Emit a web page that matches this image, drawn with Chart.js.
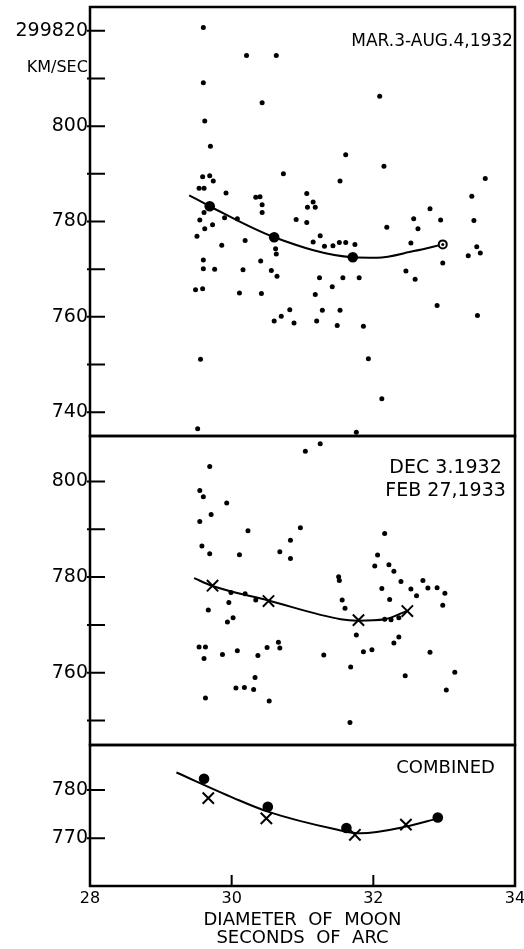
<!DOCTYPE html>
<html>
<head>
<meta charset="utf-8">
<script src="https://cdn.jsdelivr.net/npm/chart.js@4.4.1/dist/chart.umd.min.js"></script>
<style>
  html, body { margin: 0; padding: 0; background: #fff; }
  #page { position: relative; width: 524px; height: 949px; overflow: hidden; }
  #page canvas { position: absolute; left: 0; }
</style>
</head>
<body>
<div id="page">
  <canvas id="topChart" width="530" height="438" style="top:0"></canvas>
  <canvas id="midChart" width="530" height="313" style="top:434px"></canvas>
  <canvas id="botChart" width="530" height="206" style="top:743px"></canvas>
</div>
<script>
const FONT = 'DejaVu Sans';
Chart.defaults.font.family = FONT;
Chart.defaults.color = '#000';

// diameter of moon, seconds of arc
const xTicks = [28, 30, 32, 34];

// MAR.3 - AUG.4 1932
const topTicks = [740, 750, 760, 770, 780, 790, 800, 810, 820];
const topTickLabels = ['740', '', '760', '', '780', '', '800', '', '299820'];
const topX = [29.60, 30.21, 30.63, 29.60, 30.43, 29.62, 29.70, 30.73, 31.53, 29.59,
  29.69, 29.74, 29.54, 29.61, 29.92, 30.34, 30.40, 30.43, 30.43, 31.06,
  31.15, 31.18, 31.07, 29.61, 29.55, 29.90, 30.08, 30.91, 31.06, 32.09,
  31.61, 32.15, 33.58, 33.39, 32.80, 32.57, 32.95, 33.42, 29.62, 29.73,
  29.51, 29.86, 30.19, 30.62, 30.63, 31.15, 31.25, 31.31, 31.43, 31.52,
  31.61, 31.74, 29.60, 29.60, 29.76, 30.16, 30.41, 30.56, 30.64, 31.24,
  31.42, 29.49, 29.59, 30.11, 30.42, 31.18, 30.82, 30.70, 30.60, 30.88,
  31.28, 31.20, 31.49, 31.53, 29.56, 29.52, 32.19, 32.63, 32.53, 33.46,
  33.34, 33.51, 32.98, 31.57, 31.80, 32.46, 32.59, 31.86, 32.90, 33.47,
  31.93, 32.12, 31.76];
const topY = [820.7, 814.8, 814.8, 809.1, 804.9, 801.1, 795.8, 790.0, 788.5, 789.4,
  789.6, 788.5, 787.0, 787.0, 786.0, 785.1, 785.2, 783.5, 781.9, 785.9,
  784.1, 783.0, 783.0, 781.9, 780.3, 780.8, 780.6, 780.4, 779.8, 806.3,
  794.0, 791.6, 789.0, 785.3, 782.7, 780.6, 780.3, 780.2, 778.5, 779.3,
  776.9, 775.0, 776.0, 774.3, 773.2, 775.7, 777.0, 774.8, 774.9, 775.6,
  775.6, 775.2, 771.9, 770.1, 770.0, 769.9, 771.7, 769.7, 768.5, 768.2,
  766.3, 765.7, 765.9, 765.0, 764.9, 764.7, 761.5, 760.1, 759.1, 758.7,
  761.4, 759.1, 758.2, 761.4, 751.1, 736.5, 778.8, 778.5, 775.5, 774.7,
  772.8, 773.4, 771.3, 768.2, 768.2, 769.6, 767.9, 758.0, 762.4, 760.3,
  751.2, 742.8, 735.8];
const topMeanX = [29.69, 30.60, 31.71];
const topMeanY = [783.2, 776.7, 772.5];
const topRingX = [32.98];
const topRingY = [775.2];
const topCurveX = [29.40, 29.69, 30.60, 31.71, 32.05, 32.57, 32.98];
const topCurveY = [785.5, 783.2, 776.7, 772.5, 772.4, 773.8, 775.2];

// DEC 3 1932 - FEB 27 1933
const midTicks = [750, 760, 770, 780, 790, 800];
const midTickLabels = ['', '760', '', '780', '', '800'];
const midX = [31.04, 31.25, 29.69, 29.55, 29.60, 29.93, 29.71, 29.55, 30.23, 30.97,
  30.83, 29.58, 29.69, 30.11, 30.68, 30.83, 31.51, 31.52, 31.56, 29.99,
  30.19, 30.34, 29.67, 29.96, 30.02, 29.94, 29.54, 29.63, 29.61, 29.87,
  30.08, 30.37, 30.50, 30.66, 30.68, 31.30, 30.33, 30.06, 30.18, 30.31,
  29.63, 30.53, 32.16, 32.06, 32.02, 32.22, 32.29, 32.39, 32.70, 32.53,
  32.61, 32.77, 32.90, 33.01, 32.98, 32.12, 32.23, 31.60, 32.16, 32.25,
  32.36, 31.76, 32.36, 32.29, 31.86, 31.98, 32.80, 31.68, 32.45, 33.15,
  33.03, 31.67];
const midY = [806.3, 807.9, 803.1, 798.1, 796.8, 795.5, 793.1, 791.6, 789.7, 790.3,
  787.7, 786.5, 784.9, 784.7, 785.3, 783.9, 780.1, 779.3, 775.2, 776.8,
  776.5, 775.2, 773.1, 774.7, 771.5, 770.6, 765.4, 765.4, 763.0, 763.8,
  764.6, 763.6, 765.3, 766.4, 765.2, 763.7, 759.0, 756.8, 756.9, 756.5,
  754.7, 754.1, 789.1, 784.6, 782.3, 782.6, 781.2, 779.1, 779.3, 777.5,
  776.1, 777.7, 777.8, 776.6, 774.1, 777.6, 775.3, 773.5, 771.2, 771.1,
  771.5, 767.9, 767.5, 766.2, 764.4, 764.8, 764.3, 761.2, 759.4, 760.1,
  756.4, 749.6];
const midMeanX = [29.73, 30.52, 31.79, 32.48];
const midMeanY = [778.2, 775.0, 771.0, 772.9];
const midCurveX = [29.47, 29.72, 30.52, 31.54, 31.78, 32.16, 32.47];
const midCurveY = [779.8, 778.2, 775.1, 771.2, 770.9, 771.2, 772.9];

// combined
const botTicks = [770, 780];
const botTickLabels = ['770', '780'];
const botDotX = [29.61, 30.51, 31.62, 32.91];
const botDotY = [782.3, 776.5, 772.1, 774.3];
const botCrossX = [29.67, 30.49, 31.74, 32.46];
const botCrossY = [778.3, 774.1, 770.7, 772.8];
const botCurveX = [29.22, 30.03, 30.51, 31.45, 31.82, 32.46, 32.91];
const botCurveY = [783.6, 778.3, 775.5, 771.9, 771.0, 772.4, 774.1];

const pts = (xs, ys) => xs.map((x, i) => ({x, y: ys[i]}));

const dots = (data, r, order) => ({
  data, order, clip: false, pointRadius: r, pointHoverRadius: r,
  pointBackgroundColor: '#000', pointBorderWidth: 0
});
const crosses = (data, r) => ({
  data, order: 1, clip: false, pointStyle: 'crossRot', pointRadius: r, pointHoverRadius: r,
  pointBorderColor: '#000', pointBorderWidth: 2
});
const curve = data => ({
  data, order: 3, clip: false, showLine: true, fill: false, pointRadius: 0,
  borderColor: '#000', borderWidth: 2, cubicInterpolationMode: 'monotone'
});

// box round the plot, inward tick marks, lettering inside the panel
const frame = {
  id: 'frame',
  afterDraw(chart, args, opts) {
    const {ctx, chartArea: a, scales: {x, y}} = chart;
    ctx.save();
    ctx.strokeStyle = '#000';
    ctx.lineWidth = 2;
    ctx.beginPath();
    y.ticks.forEach(t => {
      const py = y.getPixelForValue(t.value);
      ctx.moveTo(a.left - 3, py);
      ctx.lineTo(a.left + 15, py);
    });
    if (opts.xMarks) {
      x.ticks.forEach(t => {
        const px = x.getPixelForValue(t.value);
        ctx.moveTo(px, a.bottom);
        ctx.lineTo(px, a.bottom - 11);
      });
    }
    ctx.stroke();
    ctx.lineWidth = 2.5;
    ctx.strokeRect(a.left, a.top, a.width, a.height);
    ctx.fillStyle = '#000';
    ctx.textBaseline = 'middle';
    (opts.notes || []).forEach(n => {
      ctx.font = n.size + 'px "' + FONT + '"';
      ctx.textAlign = n.align || 'center';
      ctx.fillText(n.text, x.getPixelForValue(n.x), y.getPixelForValue(n.y));
    });
    ctx.restore();
  }
};

function yScale(min, max, ticks, labels) {
  return {
    min, max,
    afterBuildTicks: s => { s.ticks = ticks.map(value => ({value})); },
    afterFit: s => { s.width = 90; s.paddingTop = 0; s.paddingBottom = 0; },
    grid: {display: false, drawTicks: false},
    border: {display: false},
    ticks: {padding: 2, font: {size: 19}, callback: (v, i) => labels[i]}
  };
}

function panel(id, datasets, x, y, padding, frameOpts) {
  return new Chart(document.getElementById(id), {
    type: 'scatter',
    data: {datasets},
    options: {
      responsive: false,
      animation: false,
      events: [],
      layout: {padding, autoPadding: false},
      plugins: {legend: {display: false}, tooltip: {enabled: false}, frame: frameOpts},
      scales: {x, y}
    },
    plugins: [frame]
  });
}

const hiddenX = {type: 'linear', min: 28, max: 34, display: false};

panel('topChart', [
  dots(pts(topRingX, topRingY), 1.5, 0),
  {data: pts(topRingX, topRingY), order: 1, clip: false, pointRadius: 4, pointHoverRadius: 4,
   pointBackgroundColor: '#fff', pointBorderColor: '#000', pointBorderWidth: 2},
  dots(pts(topMeanX, topMeanY), 5.3, 2),
  curve(pts(topCurveX, topCurveY)),
  dots(pts(topX, topY), 2.5, 4)
], hiddenX, yScale(735, 825, topTicks, topTickLabels),
  {top: 7, bottom: 2, left: 0, right: 15},
  {notes: [
    {text: 'MAR.3-AUG.4,1932', x: 32.83, y: 817.7, size: 17},
    {text: 'KM/SEC', x: 27.97, y: 812.2, size: 16, align: 'right'}
  ]});

panel('midChart', [
  crosses(pts(midMeanX, midMeanY), 8),
  curve(pts(midCurveX, midCurveY)),
  dots(pts(midX, midY), 2.5, 4)
], hiddenX, yScale(744.9, 809.5, midTicks, midTickLabels),
  {top: 2, bottom: 2, left: 0, right: 15},
  {notes: [
    {text: 'DEC 3.1932', x: 33.02, y: 802.75, size: 19},
    {text: 'FEB 27,1933', x: 33.02, y: 798.0, size: 19}
  ]});

panel('botChart', [
  crosses(pts(botCrossX, botCrossY), 8),
  dots(pts(botDotX, botDotY), 5.3, 2),
  curve(pts(botCurveX, botCurveY))
], {
  type: 'linear', min: 28, max: 34,
  afterBuildTicks: s => { s.ticks = xTicks.map(value => ({value})); },
  afterFit: s => { s.height = 63; },
  grid: {display: false, drawTicks: false},
  border: {display: false},
  ticks: {padding: 3, maxRotation: 0, font: {size: 16}},
  title: {
    display: true,
    text: ['DIAMETER  OF  MOON', 'SECONDS  OF  ARC'],
    font: {size: 18, lineHeight: 0.97},
    padding: {top: 0, bottom: 2}
  }
}, yScale(760.1, 789.3, botTicks, botTickLabels),
  {top: 2, bottom: 0, left: 0, right: 15},
  {xMarks: true, notes: [
    {text: 'COMBINED', x: 33.02, y: 784.5, size: 18}
  ]});
</script>
</body>
</html>
